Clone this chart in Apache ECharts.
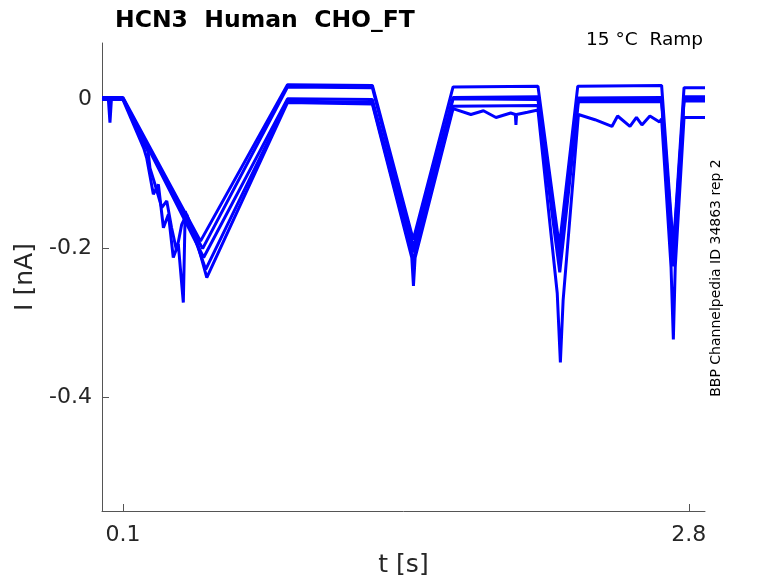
<!DOCTYPE html>
<html>
<head>
<meta charset="utf-8">
<script src="https://cdn.jsdelivr.net/npm/echarts@6/dist/echarts.min.js"></script>
<style>
html,body{margin:0;padding:0;background:#fff;}
#chart{width:778px;height:583px;}
</style>
</head>
<body>
<div id="chart"></div>
<script>
// Data: [t (s), I (nA)]
const traceA = [[0,0.003],[0.1,0.003],[0.47,-0.19],[0.885,0.02],[1.29,0.019],[1.485,-0.188],[1.675,0.017],[2.08,0.018],[2.182,-0.197],[2.27,0.018],[2.67,0.019],[2.726,-0.2],[2.777,0.016],[2.877,0.016]];
const traceB = [[0,0],[0.1,0.001],[0.48,-0.2],[0.885,0.017],[1.29,0.016],[1.485,-0.198],[1.675,0.003],[2.08,0.004],[2.182,-0.205],[2.272,0.002],[2.67,0.003],[2.726,-0.205],[2.777,0.004],[2.877,0.004]];
const traceC = [[0,0.002],[0.03,0.002],[0.038,-0.031],[0.045,0.001],[0.1,0.002],[0.485,-0.212],[0.885,0.001],[1.29,0.0],[1.485,-0.205],[1.675,0.001],[2.08,0.0],[2.182,-0.215],[2.272,0.0],[2.67,0.0],[2.726,-0.215],[2.777,0.0],[2.877,0.0]];
const traceD = [[0,0],[0.1,0],[0.2,-0.066],[0.213,-0.078],[0.245,-0.127],[0.269,-0.114],[0.293,-0.172],[0.317,-0.154],[0.34,-0.212],[0.364,-0.194],[0.388,-0.2725],[0.397,-0.15],[0.42,-0.168],[0.495,-0.228],[0.885,-0.002],[1.29,-0.004],[1.485,-0.215],[1.675,-0.009],[2.08,-0.008],[2.184,-0.232],[2.273,-0.003],[2.67,-0.003],[2.726,-0.224],[2.777,-0.002],[2.877,-0.002]];
const traceE = [[0,0.001],[0.1,0.001],[0.22,-0.07],[0.229,-0.092],[0.253,-0.114],[0.285,-0.145],[0.309,-0.136],[0.332,-0.172],[0.356,-0.203],[0.38,-0.168],[0.404,-0.154],[0.452,-0.19],[0.5,-0.239],[0.885,-0.004],[1.29,-0.006],[1.478,-0.212],[1.486,-0.25],[1.494,-0.212],[1.675,-0.012],[1.76,-0.02],[1.82,-0.015],[1.88,-0.024],[1.95,-0.018],[1.972,-0.02],[1.975,-0.034],[1.978,-0.02],[2.03,-0.017],[2.08,-0.014],[2.172,-0.26],[2.187,-0.353],[2.2,-0.27],[2.273,-0.02],[2.352,-0.027],[2.433,-0.036],[2.46,-0.022],[2.519,-0.036],[2.55,-0.024],[2.576,-0.034],[2.614,-0.022],[2.66,-0.03],[2.67,-0.026],[2.715,-0.225],[2.726,-0.322],[2.735,-0.225],[2.777,-0.024],[2.877,-0.024]];

const xTicks = [0.1, 2.8];
const yTicks = [-0.4, -0.2, 0];
const titleText = 'HCN3  Human  CHO_FT';
const condText = '15 °C  Ramp';
const sideText = 'BBP Channelpedia ID 34863 rep 2';

const FONT = 'DejaVu Sans';
const traces = [traceA, traceB, traceC, traceD, traceE];

const chart = echarts.init(document.getElementById('chart'), null, {renderer: 'canvas'});
chart.setOption({
  animation: false,
  backgroundColor: '#ffffff',
  title: {
    text: titleText,
    left: 110, top: 4,
    textStyle: {fontFamily: FONT, fontSize: 23.5, fontWeight: 'bold', color: '#000'}
  },
  grid: {left: 102, right: 73, top: 43, bottom: 71, containLabel: false},
  xAxis: {
    type: 'value', min: 0, max: 2.877,
    name: 't [s]', nameLocation: 'middle', nameGap: 42,
    nameTextStyle: {fontFamily: FONT, fontSize: 25, color: '#262626'},
    axisLine: {show: true, onZero: false, lineStyle: {color: '#555', width: 1}},
    axisTick: {show: true, inside: true, length: 7, customValues: xTicks, lineStyle: {color: '#555'}},
    axisLabel: {customValues: xTicks, fontFamily: FONT, fontSize: 22, color: '#262626', margin: 13,
      formatter: v => String(v)},
    splitLine: {show: false}
  },
  yAxis: {
    type: 'value', min: -0.5523, max: 0.076,
    name: 'I [nA]', nameLocation: 'middle', nameGap: 60, nameRotate: 90,
    nameTextStyle: {fontFamily: FONT, fontSize: 25, color: '#262626'},
    axisLine: {show: true, onZero: false, lineStyle: {color: '#555', width: 1}},
    axisTick: {show: true, inside: true, length: 7, customValues: yTicks, lineStyle: {color: '#555'}},
    axisLabel: {customValues: yTicks, fontFamily: FONT, fontSize: 22, color: '#262626', margin: 10,
      formatter: v => (v === 0 ? '0' : String(v))},
    splitLine: {show: false}
  },
  graphic: [
    {type: 'text', right: 75, top: 31,
      style: {text: condText, font: '18.5px "' + FONT + '"', fill: '#000'}},
    {type: 'text', x: 716, y: 278, rotation: Math.PI / 2,
      style: {text: sideText, font: '14px "' + FONT + '"', fill: '#000', align: 'center', verticalAlign: 'middle'}}
  ],
  series: traces.map(d => ({
    type: 'line', data: d, showSymbol: false, symbol: 'none',
    lineStyle: {color: '#0000ff', width: 3}, clip: true
  }))
});
</script>
</body>
</html>
